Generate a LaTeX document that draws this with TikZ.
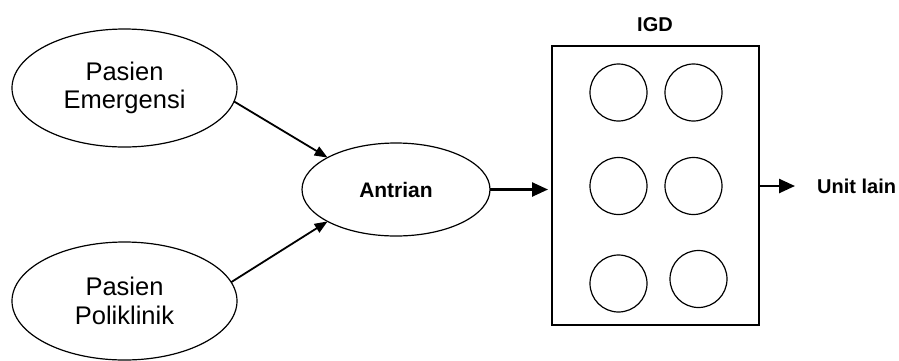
\documentclass[tikz,border=0pt]{standalone}
\usepackage{fontspec}
\setmainfont{Liberation Sans}
\usetikzlibrary{shapes.geometric,arrows.meta}

\tikzset{
  src/.style={draw, ellipse, line width=1.2pt, inner sep=0pt, outer sep=0pt,
    minimum width=225pt, minimum height=118pt, align=center,
    font=\fontsize{25.5}{28.5}\selectfont},
  queue/.style={draw, ellipse, line width=1.2pt, inner sep=0pt, outer sep=0pt,
    minimum width=188pt, minimum height=93pt, font=\fontsize{21}{24}\selectfont\bfseries},
  unitbox/.style={draw, line width=1.3pt, inner sep=0pt, outer sep=0pt},
  bed/.style={draw, circle, line width=1.2pt, minimum size=57pt, inner sep=0pt},
  lbl/.style={font=\fontsize{20}{24}\selectfont\bfseries, inner sep=0pt},
  flow/.style={line width=1.8pt, -{Triangle[length=13pt,width=10pt]}},
  mainflow/.style={line width=2.5pt, -{Triangle[length=16pt,width=14pt]}}
}

\begin{document}
\begin{tikzpicture}[x=1pt, y=-1pt]
  \useasboundingbox (0,0) rectangle (899,360);

  % sources and queue
  \node[src] (em) at (124.5,88) {Pasien\\Emergensi};
  \node[src] (po) at (124.5,301) {Pasien\\Poliklinik};
  \node[queue] (an) at (396,189.5) {Antrian};

  % emergency unit with its beds
  \node[unitbox, minimum width=207pt, minimum height=279pt] (igd) at (655.5,185.5) {};
  \node[lbl] (igdlbl) at (655,25) {IGD};
  \node[bed] (b1) at (618.5,92.5) {};
  \node[bed] (b2) at (693.5,92.5) {};
  \node[bed] (b3) at (618.5,186) {};
  \node[bed] (b4) at (693.5,186) {};
  \node[bed] (b5) at (618.5,283.5) {};
  \node[bed] (b6) at (698.5,279) {};

  % next unit
  \node[lbl, anchor=west] (ul) at (817,186) {Unit lain};

  % flows
  \draw[flow] (em.-7) -- (an.155);
  \draw[flow] (po.10) -- (an.205);
  \draw[mainflow, shorten >=4pt] (an.east) -- (an.east -| igd.west);
  \draw[mainflow, shorten >=22pt] (igd.east |- ul.west) -- (ul.west);
\end{tikzpicture}
\end{document}
